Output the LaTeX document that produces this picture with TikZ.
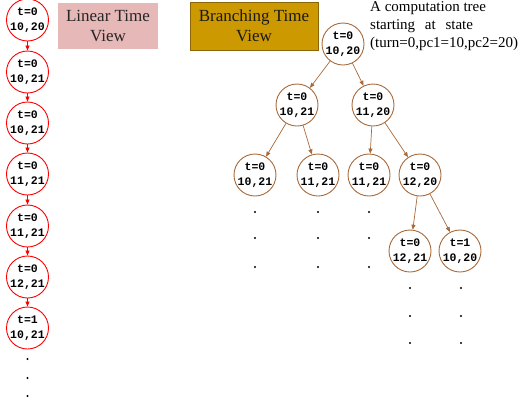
\documentclass[tikz,border=0pt]{standalone}
\usepackage{fontspec}
\setmainfont{Liberation Serif}
\newfontfamily\statemono{Liberation Mono}
\usetikzlibrary{arrows.meta}
\definecolor{brn}{HTML}{A86A3A}
\definecolor{pinkfill}{HTML}{E6B8B7}
\definecolor{goldfill}{HTML}{CC9900}
\definecolor{goldline}{HTML}{8B6508}
\tikzset{
  st/.style={circle, draw, line width=0.9pt, minimum size=42pt, inner sep=-4pt,
    align=center, fill=white,
    font={\statemono\bfseries\fontsize{11.5}{14.5}\selectfont}},
  lin/.style={st, draw=red},
  br/.style={st, draw=brn},
  linarrow/.style={draw=red, line width=0.7pt, -{Triangle[length=5pt,width=4pt]}},
  brarrow/.style={draw=brn, line width=0.7pt, -{Triangle[length=5pt,width=4pt]}},
  viewbox/.style={rectangle, minimum width=#1, minimum height=46pt, inner sep=0pt,
    align=center, font={\fontsize{17}{20}\selectfont}},
  dotmark/.style={fill=black}
}
\begin{document}
\begin{tikzpicture}[x=1pt,y=-1pt]
\useasboundingbox (0,0) rectangle (520,400);

% headings
\node[viewbox=100pt, fill=pinkfill, text=black!85] (linview) at (108,26) {Linear Time\\View};
\node[viewbox=128pt, minimum height=48pt, fill=goldfill, draw=goldline, line width=0.8pt, text=black!90]
  (brview) at (254,26) {Branching Time\\View};
\node[anchor=north west, inner sep=0pt, align=left, font={\fontsize{15}{18}\selectfont}]
  (note) at (370,1) {A computation tree\\starting\hspace{6pt} at\hspace{6pt} state\\(turn=0,pc1=10,pc2=20)};

% linear run
\node[lin] (l1) at (27.5,20)  {t=0\\10,20};
\node[lin] (l2) at (27.5,72)  {t=0\\10,21};
\node[lin] (l3) at (27.5,123) {t=0\\10,21};
\node[lin] (l4) at (27.5,174) {t=0\\11,21};
\node[lin] (l5) at (27.5,226) {t=0\\11,21};
\node[lin] (l6) at (27.5,277) {t=0\\12,21};
\node[lin] (l7) at (27.5,328) {t=1\\10,21};
\foreach \a/\b in {l1/l2,l2/l3,l3/l4,l4/l5,l5/l6,l6/l7}
  \draw[linarrow] (\a) -- (\b);
\foreach \y in {359,378,396}
  \fill[dotmark] (27.5,\y) circle (1.1);

% computation tree
\node[br] (r)  at (343,44)  {t=0\\10,20};
\node[br] (a)  at (297,105) {t=0\\10,21};
\node[br] (b)  at (373,105) {t=0\\11,20};
\node[br] (aa) at (255,175) {t=0\\10,21};
\node[br] (ab) at (318,175) {t=0\\11,21};
\node[br] (ba) at (369,175) {t=0\\11,21};
\node[br] (bb) at (420,175) {t=0\\12,20};
\node[br] (bba) at (410,251) {t=0\\12,21};
\node[br] (bbb) at (460,251) {t=1\\10,20};
\foreach \a/\b in {r/a,r/b,a/aa,a/ab,b/ba,b/bb,bb/bba,bb/bbb}
  \draw[brarrow] (\a) -- (\b);
\foreach \x in {255,318,369}
  \foreach \y in {212,238,267}
    \fill[dotmark] (\x,\y) circle (1.1);
\foreach \x in {410,461}
  \foreach \y in {288,316,343}
    \fill[dotmark] (\x,\y) circle (1.1);
\end{tikzpicture}
\end{document}
